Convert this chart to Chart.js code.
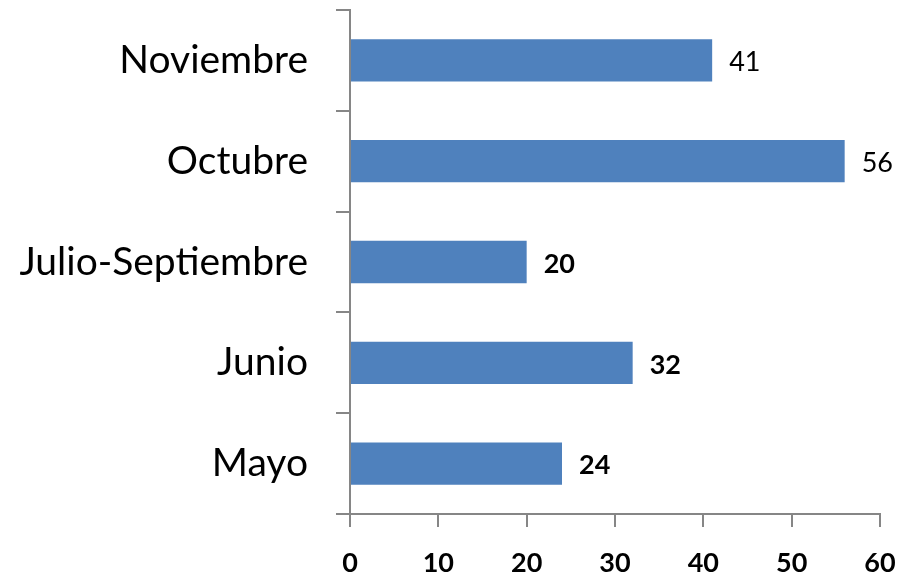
<!DOCTYPE html>
<html>
<head>
<meta charset="utf-8">
<script src="https://cdn.jsdelivr.net/npm/chart.js@4"></script>
<style>
html,body{margin:0;padding:0;background:#fff;}
#wrap{width:902px;height:579px;position:relative;}
</style>
</head>
<body>
<div id="wrap"><canvas id="c" width="902" height="579"></canvas></div>
<script>
const categories = ["Noviembre", "Octubre", "Julio-Septiembre", "Junio", "Mayo"];
const values = [41, 56, 20, 32, 24];
const xTicks = [0, 10, 20, 30, 40, 50, 60];

const axisGray = '#868686';
const fontFamily = 'Lato, "Open Sans", sans-serif';

const valueLabels = {
  id: 'valueLabels',
  afterDatasetsDraw(chart) {
    const ctx = chart.ctx;
    const meta = chart.getDatasetMeta(0);
    ctx.save();
    ctx.fillStyle = '#000';
    ctx.textAlign = 'left';
    ctx.textBaseline = 'middle';
    meta.data.forEach((bar, i) => {
      const w = i < 2 ? 'normal' : 'bold';
      ctx.font = w + ' 27px ' + fontFamily;
      ctx.fillText(String(values[i]), bar.x + 17, bar.y + 2);
    });
    ctx.restore();
  }
};

new Chart(document.getElementById('c'), {
  type: 'bar',
  data: {
    labels: categories,
    datasets: [{
      data: values,
      backgroundColor: '#4F81BD',
      borderWidth: 0,
      barPercentage: 0.42,
      categoryPercentage: 1.0
    }]
  },
  options: {
    indexAxis: 'y',
    responsive: false,
    animation: false,
    devicePixelRatio: 1,
    layout: { padding: { top: 10, right: 22, left: 0, bottom: 0 } },
    plugins: { legend: { display: false }, tooltip: { enabled: false } },
    scales: {
      x: {
        min: 0, max: 60,
        afterBuildTicks(scale) { scale.ticks = xTicks.map(v => ({ value: v })); },
        afterFit(scale) { scale.height = 65; scale.paddingLeft = 0; scale.paddingRight = 0; },
        border: { color: axisGray, width: 2 },
        grid: { drawOnChartArea: false, drawTicks: true, tickLength: 13, color: axisGray, lineWidth: 2 },
        ticks: { color: '#000', padding: 20, font: { family: fontFamily, size: 27, weight: 'bold' } }
      },
      y: {
        afterFit(scale) { scale.width = 350; scale.paddingTop = 0; scale.paddingBottom = 0; },
        border: { color: axisGray, width: 2 },
        grid: { offset: true, drawOnChartArea: false, drawTicks: true, tickLength: 14, color: axisGray, lineWidth: 2 },
        ticks: { color: '#000', padding: 28, font: { family: fontFamily, size: 39 } }
      }
    }
  },
  plugins: [valueLabels]
});
</script>
</body>
</html>
